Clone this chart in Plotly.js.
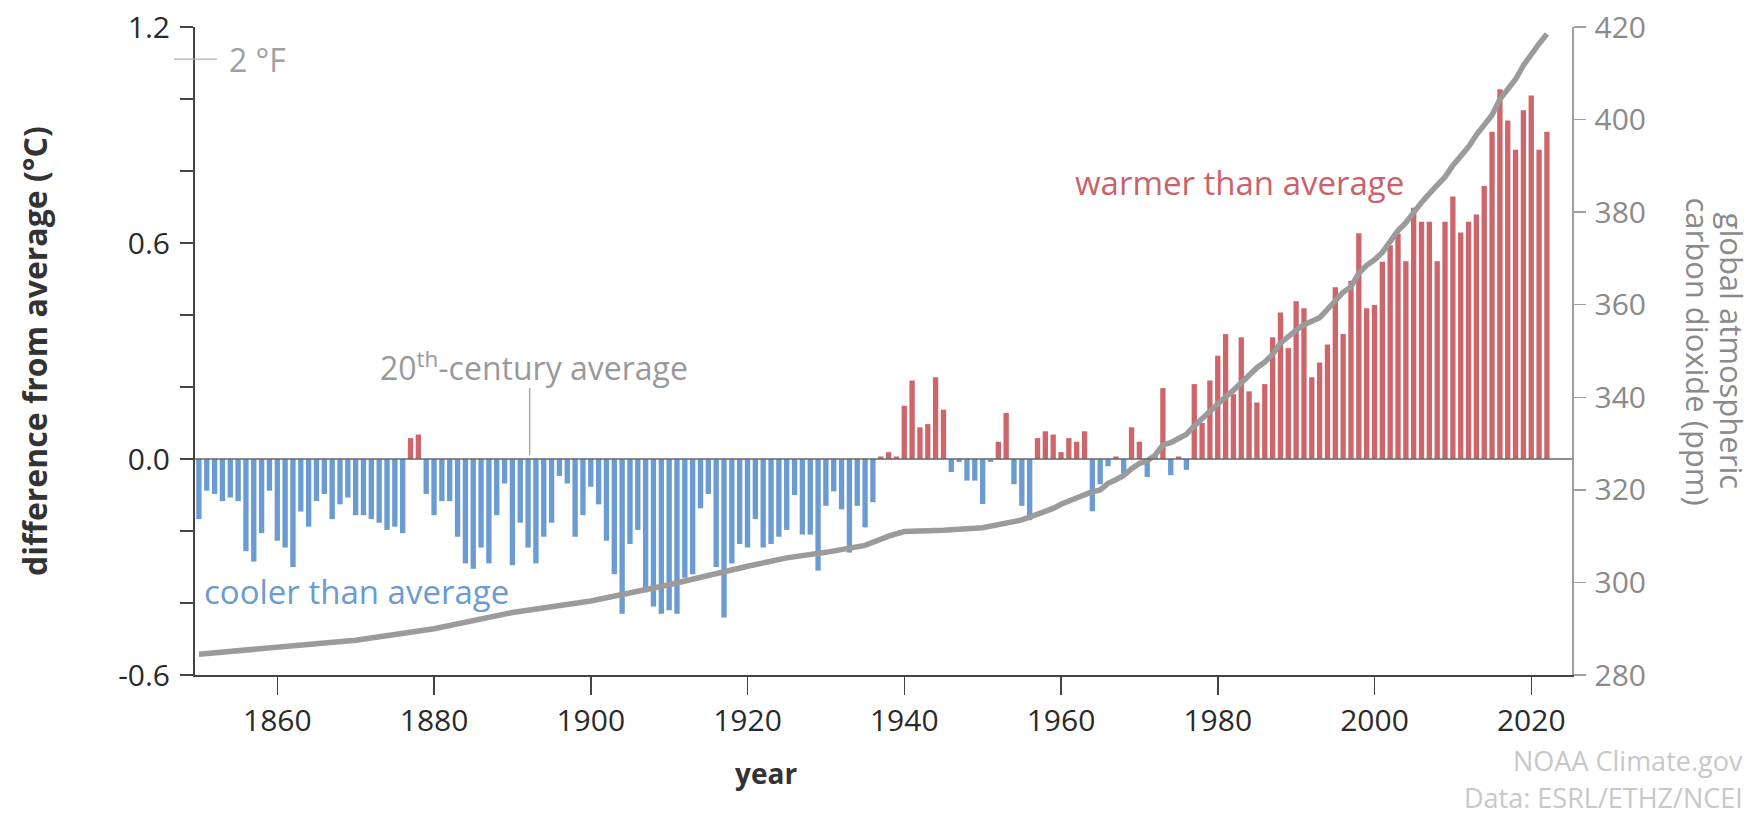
<!DOCTYPE html>
<html>
<head>
<meta charset="utf-8">
<script src="https://cdn.plot.ly/plotly-3.0.1.min.js"></script>
<style>
  html, body { margin: 0; padding: 0; background: #ffffff; }
  #chart { width: 1757px; height: 818px; }
</style>
</head>
<body>
<div id="chart"></div>
<script>
// ---- data ----
const firstYear = 1850;
const lastYear = 2022;

// temperature difference from 20th-century average (°C), 1850..2022
const tempAnomaly = [
  -0.167, -0.088, -0.097, -0.117, -0.107, -0.117, -0.256, -0.285, -0.206, -0.088, // 1850-1859
  -0.227, -0.246, -0.300, -0.146, -0.188, -0.117, -0.097, -0.167, -0.126, -0.107, // 1860-1869
  -0.156, -0.156, -0.167, -0.177, -0.197, -0.188, -0.206,  0.058,  0.068, -0.097, // 1870-1879
  -0.156, -0.117, -0.117, -0.216, -0.290, -0.305, -0.246, -0.290, -0.156, -0.068, // 1880-1889
  -0.295, -0.177, -0.246, -0.290, -0.216, -0.177, -0.047, -0.068, -0.216, -0.156, // 1890-1899
  -0.077, -0.126, -0.227, -0.320, -0.430, -0.236, -0.197, -0.370, -0.410, -0.430, // 1900-1909
  -0.420, -0.430, -0.330, -0.320, -0.137, -0.097, -0.300, -0.440, -0.290, -0.236, // 1910-1919
  -0.246, -0.167, -0.246, -0.236, -0.216, -0.197, -0.100, -0.210, -0.210, -0.310, // 1920-1929
  -0.130, -0.090, -0.140, -0.260, -0.130, -0.190, -0.120,  0.007,  0.019,  0.007, // 1930-1939
   0.148,  0.218,  0.088,  0.097,  0.227,  0.137, -0.036, -0.008, -0.060, -0.060, // 1940-1949
  -0.125, -0.008,  0.048,  0.128, -0.070, -0.130, -0.170,  0.058,  0.077,  0.068, // 1950-1959
   0.019,  0.058,  0.048,  0.077, -0.145, -0.070, -0.020,  0.007, -0.040,  0.088, // 1960-1969
   0.048, -0.050,  0.010,  0.197, -0.045,  0.007, -0.030,  0.208,  0.100,  0.218, // 1970-1979
   0.287,  0.347,  0.180,  0.338,  0.188,  0.157,  0.208,  0.338,  0.407,  0.308, // 1980-1989
   0.438,  0.419,  0.227,  0.268,  0.318,  0.477,  0.347,  0.495,  0.627,  0.419, // 1990-1999
   0.428,  0.548,  0.593,  0.626,  0.549,  0.698,  0.659,  0.659,  0.549,  0.659, // 2000-2009
   0.729,  0.629,  0.659,  0.679,  0.758,  0.909,  1.027,  0.940,  0.859,  0.969, // 2010-2019
   1.010,  0.859,  0.909                                                           // 2020-2022
];

// global atmospheric CO2 (ppm)
const co2Years = [
  1850, 1860, 1870, 1880, 1890, 1900, 1910, 1920, 1925, 1930, 1935, 1938, 1940, 1945, 1950, 1955, 1958,
  1959, 1960, 1961, 1962, 1963, 1964, 1965, 1966, 1967, 1968, 1969,
  1970, 1971, 1972, 1973, 1974, 1975, 1976, 1977, 1978, 1979,
  1980, 1981, 1982, 1983, 1984, 1985, 1986, 1987, 1988, 1989,
  1990, 1991, 1992, 1993, 1994, 1995, 1996, 1997, 1998, 1999,
  2000, 2001, 2002, 2003, 2004, 2005, 2006, 2007, 2008, 2009,
  2010, 2011, 2012, 2013, 2014, 2015, 2016, 2017, 2018, 2019,
  2020, 2021, 2022
];
const co2Ppm = [
  284.5, 286.0, 287.5, 290.0, 293.5, 296.0, 299.5, 303.5, 305.3, 306.5, 308.0, 310.0, 311.0, 311.3, 311.8, 313.5, 315.3,
  316.0, 316.9, 317.6, 318.5, 319.0, 319.6, 320.0, 321.4, 322.2, 323.1, 324.6,
  325.7, 326.3, 327.5, 329.7, 330.2, 331.1, 332.0, 333.8, 335.4, 336.8,
  338.8, 340.1, 341.5, 343.2, 344.9, 346.4, 347.6, 349.3, 351.7, 353.2,
  354.5, 355.7, 356.5, 357.2, 359.0, 361.0, 362.7, 363.9, 366.8, 368.5,
  369.7, 371.3, 373.5, 376.0, 377.7, 380.0, 382.1, 384.0, 385.8, 387.6,
  390.1, 391.9, 394.1, 396.7, 398.8, 401.0, 404.4, 406.8, 408.7, 411.7,
  414.2, 416.4, 418.5
];

const xTickVals = [1860, 1880, 1900, 1920, 1940, 1960, 1980, 2000, 2020];
const yTickVals = [-0.6, 0.0, 0.6, 1.2];
const yTickText = ['-0.6', '0.0', '0.6', '1.2'];
const yMinorTickVals = [-0.4, -0.2, 0.2, 0.4, 0.8, 1.0];
const y2TickVals = [280, 300, 320, 340, 360, 380, 400, 420];

// ---- build ----
const years = [];
for (let y = firstYear; y <= lastYear; y++) years.push(y);

const WARM = '#cc666b';
const COOL = '#6a9bd2';
const barColors = tempAnomaly.map(v => (v >= 0 ? WARM : COOL));

const FONT = 'Open Sans, Noto Sans, sans-serif';

const traces = [
  {
    type: 'bar',
    x: years,
    y: tempAnomaly,
    marker: { color: barColors, line: { width: 0 } },
    hoverinfo: 'skip',
    xaxis: 'x',
    yaxis: 'y'
  },
  {
    type: 'scatter',
    mode: 'lines',
    x: co2Years,
    y: co2Ppm,
    line: { color: '#9b9b9b', width: 5.5, shape: 'linear' },
    hoverinfo: 'skip',
    xaxis: 'x',
    yaxis: 'y2'
  }
];

const layout = {
  width: 1757,
  height: 818,
  margin: { l: 195, r: 185, t: 27, b: 143, pad: 0 },
  paper_bgcolor: '#ffffff',
  plot_bgcolor: '#ffffff',
  showlegend: false,
  bargap: 0.32,
  font: { family: FONT, size: 30, color: '#333333' },
  xaxis: {
    range: [1849.5, 2025.2],
    tickmode: 'array',
    tickvals: xTickVals,
    ticktext: xTickVals.map(String),
    ticks: 'outside',
    ticklen: 18,
    tickwidth: 1.5,
    tickcolor: '#444444',
    showline: true,
    linecolor: '#444444',
    linewidth: 2,
    showgrid: false,
    zeroline: false,
    tickfont: { family: FONT, size: 30, color: '#2a2a2a' },
    fixedrange: true
  },
  yaxis: {
    range: [-0.6, 1.2],
    tickmode: 'array',
    tickvals: yTickVals,
    ticktext: yTickText,
    ticks: 'outside',
    ticklen: 13,
    tickwidth: 1.5,
    tickcolor: '#444444',
    minor: {
      tickmode: 'array',
      tickvals: yMinorTickVals,
      ticks: 'outside',
      ticklen: 13,
      tickwidth: 1.5,
      tickcolor: '#444444',
      showgrid: false
    },
    showline: true,
    linecolor: '#444444',
    linewidth: 2,
    showgrid: false,
    zeroline: false,
    tickfont: { family: FONT, size: 30, color: '#2a2a2a' },
    ticklabelstandoff: 4,
    fixedrange: true
  },
  yaxis2: {
    overlaying: 'y',
    side: 'right',
    range: [280, 420],
    tickmode: 'array',
    tickvals: y2TickVals,
    ticktext: y2TickVals.map(String),
    ticks: 'outside',
    ticklen: 12,
    tickwidth: 1.5,
    tickcolor: '#a0a0a0',
    showline: true,
    linecolor: '#a0a0a0',
    linewidth: 1.5,
    showgrid: false,
    zeroline: false,
    tickfont: { family: FONT, size: 30, color: '#8a8a8a' },
    ticklabelstandoff: 3,
    fixedrange: true
  },
  shapes: [
    // zero (20th-century average) line
    { type: 'line', xref: 'paper', yref: 'y', x0: 0, x1: 1, y0: 0, y1: 0,
      line: { color: '#666666', width: 1.5 }, layer: 'above' },
    // 2 °F reference tick
    { type: 'line', xref: 'paper', yref: 'y', x0: -0.0153, x1: 0.016, y0: 1.111, y1: 1.111,
      line: { color: '#b0b0b0', width: 1.2 }, layer: 'above' },
    // pointer for 20th-century average label
    { type: 'line', xref: 'x', yref: 'y', x0: 1892.2, x1: 1892.2, y0: 0.011, y1: 0.197,
      line: { color: '#aaaaaa', width: 1.5 }, layer: 'above' }
  ],
  annotations: [
    { xref: 'paper', yref: 'paper', x: -0.117, y: 0.5, textangle: -90, showarrow: false,
      text: '<b>difference from average (°C)</b>',
      font: { family: FONT, size: 32, color: '#333333' }, xanchor: 'center', yanchor: 'middle' },
    { xref: 'paper', yref: 'paper', x: 1.1165, y: 0.5, textangle: 90, showarrow: false,
      text: 'global atmospheric',
      font: { family: FONT, size: 31, color: '#8a8a8a' }, xanchor: 'center', yanchor: 'middle' },
    { xref: 'paper', yref: 'paper', x: 1.0912, y: 0.5, textangle: 90, showarrow: false,
      text: 'carbon dioxide (ppm)',
      font: { family: FONT, size: 31, color: '#8a8a8a' }, xanchor: 'center', yanchor: 'middle' },
    { xref: 'paper', yref: 'paper', x: 0.415, y: -0.151, showarrow: false,
      text: '<b>year</b>',
      font: { family: FONT, size: 28, color: '#333333' }, xanchor: 'center', yanchor: 'middle' },
    { xref: 'paper', yref: 'paper', x: 1.1256, y: -0.1312, showarrow: false,
      text: 'NOAA Climate.gov',
      font: { family: FONT, size: 27, color: '#c8c8c8' }, xanchor: 'right', yanchor: 'middle', align: 'right' },
    { xref: 'paper', yref: 'paper', x: 1.1256, y: -0.1883, showarrow: false,
      text: 'Data: ESRL/ETHZ/NCEI',
      font: { family: FONT, size: 27, color: '#c8c8c8' }, xanchor: 'right', yanchor: 'middle', align: 'right' },
    { xref: 'paper', yref: 'y', x: 0.0232, y: 1.111, showarrow: false,
      text: '2 °F',
      font: { family: FONT, size: 32, color: '#a0a0a0' }, xanchor: 'left', yanchor: 'middle' },
    { xref: 'x', yref: 'y', x: 1892.7, y: 0.258, showarrow: false,
      text: '20<sup>th</sup>-century average',
      font: { family: FONT, size: 32, color: '#999999' }, xanchor: 'center', yanchor: 'middle' },
    { xref: 'x', yref: 'y', x: 1870.1, y: -0.369, showarrow: false,
      text: 'cooler than average',
      font: { family: FONT, size: 33, color: '#6a9bd2' }, xanchor: 'center', yanchor: 'middle' },
    { xref: 'x', yref: 'y', x: 1982.8, y: 0.767, showarrow: false,
      text: 'warmer than average',
      font: { family: FONT, size: 33, color: '#c9626a' }, xanchor: 'center', yanchor: 'middle' }
  ]
};

Plotly.newPlot('chart', traces, layout, { staticPlot: true, displayModeBar: false });
</script>
</body>
</html>
